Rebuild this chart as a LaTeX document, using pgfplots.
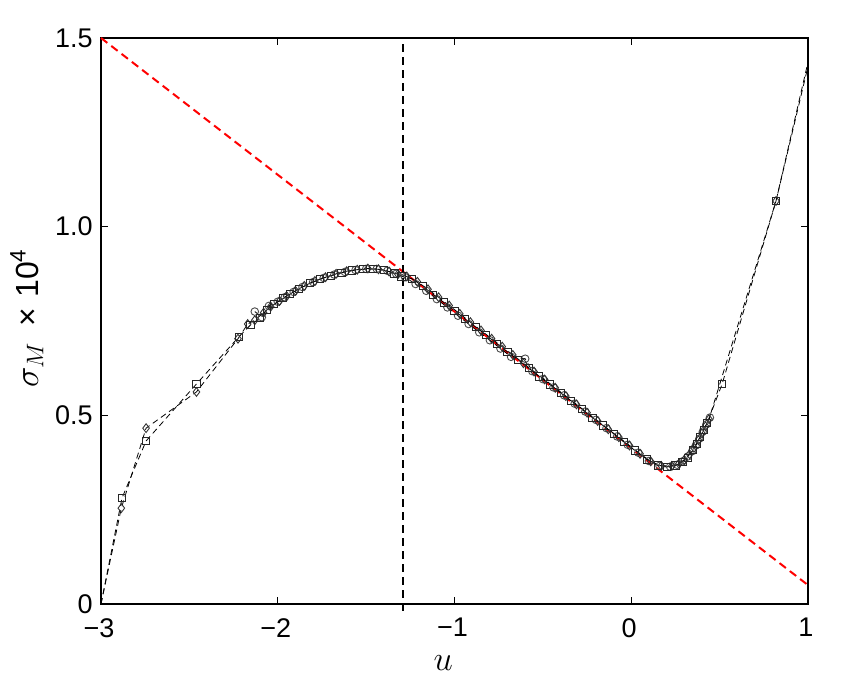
\documentclass[border=0pt]{standalone}
\usepackage{pgfplots}
\pgfplotsset{compat=1.18}
\usepackage{pgfplotstable}
\usepackage{fontspec}
\setmainfont{Liberation Sans}

\pgfplotstableread{
u s
-3.000 0.000
-2.881 0.281
-2.745 0.432
-2.460 0.583
-2.220 0.708
-2.155 0.739
-2.100 0.758
-2.060 0.780
-2.020 0.795
-1.970 0.810
-1.930 0.822
-1.880 0.835
-1.820 0.850
-1.760 0.861
-1.700 0.870
-1.640 0.878
-1.580 0.884
-1.520 0.887
-1.460 0.888
-1.400 0.885
-1.340 0.876
-1.300 0.868
-1.240 0.862
-1.180 0.842
-1.120 0.820
-1.060 0.799
-1.000 0.777
-0.940 0.755
-0.880 0.734
-0.820 0.712
-0.760 0.690
-0.700 0.668
-0.640 0.647
-0.580 0.625
-0.520 0.603
-0.460 0.582
-0.400 0.560
-0.340 0.538
-0.280 0.516
-0.220 0.494
-0.160 0.473
-0.100 0.451
-0.040 0.429
0.020 0.407
0.090 0.383
0.150 0.367
0.200 0.363
0.250 0.367
0.290 0.377
0.320 0.388
0.350 0.408
0.370 0.425
0.390 0.443
0.410 0.462
0.430 0.480
0.515 0.584
0.819 1.068
1.000 1.436
}\tabsq

\pgfplotstableread{
u s
-3.000 0.000
-2.885 0.254
-2.745 0.466
-2.460 0.562
-2.225 0.703
-2.170 0.742
-2.130 0.752
-2.080 0.772
-2.040 0.788
-1.990 0.803
-1.950 0.816
-1.900 0.830
-1.850 0.843
-1.790 0.856
-1.730 0.866
-1.670 0.875
-1.610 0.882
-1.550 0.886
-1.490 0.889
-1.430 0.887
-1.370 0.881
-1.320 0.874
-1.270 0.868
-1.210 0.854
-1.150 0.834
-1.090 0.813
-1.030 0.791
-0.970 0.769
-0.910 0.747
-0.850 0.725
-0.790 0.703
-0.730 0.682
-0.670 0.660
-0.610 0.638
-0.550 0.616
-0.490 0.595
-0.430 0.573
-0.370 0.551
-0.310 0.529
-0.250 0.507
-0.190 0.485
-0.130 0.463
-0.070 0.442
-0.010 0.420
0.050 0.398
0.110 0.378
0.170 0.366
0.230 0.366
0.270 0.372
0.300 0.382
0.330 0.397
0.355 0.414
0.380 0.434
0.400 0.452
0.420 0.471
0.440 0.490
0.819 1.068
1.000 1.425
}\tabdi

\pgfplotstableread{
u s
-2.130 0.775
-2.090 0.760
-2.050 0.790
-2.000 0.801
-1.960 0.813
-1.910 0.827
-1.860 0.840
-1.800 0.853
-1.740 0.864
-1.680 0.873
-1.620 0.880
-1.560 0.885
-1.500 0.888
-1.440 0.888
-1.380 0.883
-1.330 0.875
-1.280 0.866
-1.220 0.848
-1.160 0.830
-1.100 0.808
-1.040 0.786
-0.980 0.764
-0.920 0.742
-0.860 0.720
-0.800 0.699
-0.740 0.677
-0.680 0.655
-0.600 0.650
-0.560 0.617
-0.500 0.596
-0.440 0.574
-0.380 0.553
-0.320 0.531
-0.260 0.510
-0.200 0.488
-0.140 0.466
-0.080 0.444
-0.020 0.422
0.040 0.401
0.100 0.379
0.160 0.366
0.220 0.364
0.260 0.369
0.290 0.378
0.320 0.391
0.345 0.405
0.365 0.420
0.385 0.438
0.405 0.457
0.425 0.476
0.445 0.494
}\tabci

\begin{document}
\begin{tikzpicture}
\begin{axis}[
  scale only axis,
  width=353.5pt, height=283pt,
  xmin=-3, xmax=1, ymin=0, ymax=1.5,
  clip=false,
  xtick={-3,-2,-1,0,1},
  xticklabels={−3,−2,−1,0,1},
  ytick={0,0.5,1,1.5},
  yticklabels={0,0.5,1.0,1.5},
  tick align=inside,
  major tick length=3.5pt,
  tick style={black, line width=0.5pt},
  axis line style={line width=0.7pt},
  ticklabel style={font=\fontsize{13.5}{15}\selectfont, inner sep=0.5pt},
  xticklabel style={yshift=-6.5pt, xshift=-1pt},
  yticklabel style={xshift=-3.5pt},
  xlabel={$u$},
  ylabel={{\fontsize{17.5}{20}\selectfont$\sigma_M$}\hspace{8pt}{\fontsize{16}{19}\selectfont ×\hspace{5pt}10\textsuperscript{4}}},
  label style={font=\fontsize{16}{19}\selectfont, inner sep=1pt},
  xlabel style={at={(axis description cs:0.484,-0.104)}, anchor=center},
  ylabel style={at={(axis description cs:-0.105,0.505)}, anchor=center},
]
% red reference line
\addplot[red, line width=1pt, dash pattern=on 4pt off 2.5pt] coordinates {(-3,1.5) (1,0.05)};
% vertical line
\addplot[black, line width=1pt, dash pattern=on 4pt off 2.5pt] coordinates {(-1.29,-0.018) (-1.29,1.5)};
% data lines
\addplot[black, line width=0.4pt, dash pattern=on 3pt off 2pt] table[x=u,y=s] {\tabsq};
\addplot[black, line width=0.4pt, dash pattern=on 3pt off 2pt] table[x=u,y=s] {\tabdi};
\addplot[black, line width=0.4pt, dash pattern=on 3pt off 2pt] table[x=u,y=s] {\tabci};
% markers
\addplot[only marks, mark=o, mark size=1.9pt, mark options={draw=black!70, line width=0.45pt, solid}, restrict x to domain=-2.99:0.99] table[x=u,y=s] {\tabci};
\addplot[only marks, mark=diamond, mark size=2.2pt, mark options={draw=black!80, line width=0.45pt, solid}, restrict x to domain=-2.99:0.99] table[x=u,y=s] {\tabdi};
\addplot[only marks, mark=square, mark size=1.8pt, mark options={draw=black!85, line width=0.45pt, solid}, restrict x to domain=-2.99:0.99] table[x=u,y=s] {\tabsq};
\end{axis}
\path ([shift={(-50.5pt,-42pt)}]current axis.south west) rectangle ([shift={(19pt,19pt)}]current axis.north east);
\end{tikzpicture}
\end{document}
